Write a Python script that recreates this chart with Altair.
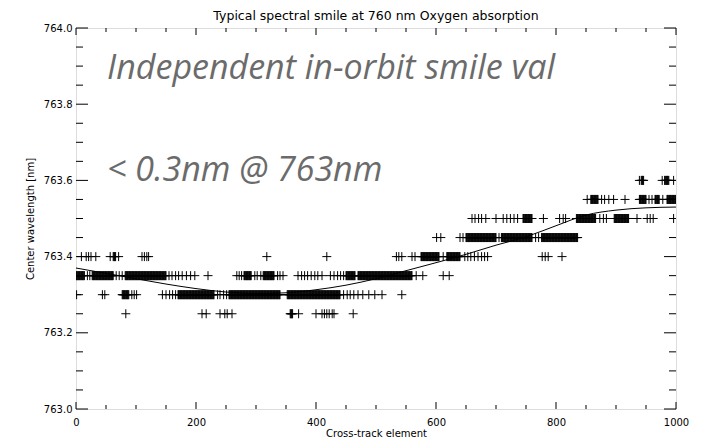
import altair as alt
import pandas as pd

# ---- data ----
# runs of cross-track elements (start, end) observed at each centre-wavelength level [nm]
lvl_763_60 = [(939, 939), (942, 946), (977, 977), (981, 988), (996, 996)]
lvl_763_55 = [(852, 852), (858, 870), (876, 876), (881, 881), (888, 888), (896, 896), (915, 915),
              (939, 950), (955, 955), (960, 960), (965, 972), (978, 978), (985, 1000)]
lvl_763_50 = [(660, 660), (665, 665), (671, 671), (676, 676), (683, 683), (700, 700), (712, 712),
              (718, 718), (724, 724), (730, 730), (736, 736), (745, 760), (779, 779), (806, 806),
              (812, 812), (816, 816), (834, 866), (873, 873), (879, 879), (884, 884), (897, 921),
              (935, 935), (952, 952), (957, 957), (962, 962), (996, 996)]
lvl_763_45 = [(601, 601), (608, 608), (640, 640), (645, 645), (650, 700), (705, 705), (709, 760),
              (766, 766), (771, 771), (776, 836)]
lvl_763_40 = [(9, 9), (17, 17), (21, 21), (25, 25), (33, 33), (57, 57), (62, 66), (71, 71),
              (110, 110), (114, 114), (118, 118), (121, 121), (318, 318), (418, 418), (534, 534),
              (538, 538), (543, 543), (560, 560), (565, 565), (575, 605), (612, 612), (618, 640),
              (648, 648), (653, 653), (658, 658), (664, 664), (670, 670), (676, 676), (681, 681),
              (686, 686), (777, 777), (782, 782), (787, 787), (810, 810)]
lvl_763_35 = [(0, 14), (19, 19), (23, 23), (27, 62), (67, 67), (72, 72), (77, 77), (82, 150),
              (155, 155), (160, 160), (166, 166), (171, 171), (177, 177), (184, 184), (191, 191),
              (198, 198), (220, 220), (268, 268), (272, 272), (276, 276), (280, 292), (298, 298),
              (302, 302), (308, 308), (312, 330), (336, 336), (340, 340), (345, 345), (370, 370),
              (376, 376), (381, 381), (386, 386), (392, 392), (398, 398), (403, 403), (410, 410),
              (424, 424), (430, 430), (436, 436), (441, 441), (446, 446), (450, 465), (470, 560),
              (567, 567), (578, 578), (612, 612), (622, 622)]
lvl_763_30 = [(1, 1), (44, 44), (48, 48), (77, 88), (93, 93), (97, 97), (101, 101), (144, 144),
              (150, 150), (156, 156), (161, 161), (166, 166), (170, 230), (236, 236), (240, 240),
              (246, 246), (251, 251), (255, 340), (352, 440), (446, 446), (452, 452), (457, 457),
              (463, 463), (470, 470), (478, 478), (488, 488), (498, 498), (510, 510), (543, 543)]
lvl_763_25 = [(83, 83), (210, 210), (217, 217), (240, 240), (248, 248), (252, 252), (260, 260),
              (357, 361), (371, 371), (400, 400), (410, 410), (414, 414), (418, 418), (422, 422),
              (427, 427), (430, 430), (462, 462)]

levels = {763.60: lvl_763_60, 763.55: lvl_763_55, 763.50: lvl_763_50, 763.45: lvl_763_45,
          763.40: lvl_763_40, 763.35: lvl_763_35, 763.30: lvl_763_30, 763.25: lvl_763_25}

# fitted smile curve
fit_x = [0, 50, 100, 150, 200, 250, 300, 350, 400, 450, 500, 550, 600, 650, 700, 750, 800, 850,
         900, 950, 1000]
fit_y = [763.370, 763.356, 763.342, 763.328, 763.316, 763.307, 763.303, 763.305, 763.313, 763.325,
         763.342, 763.363, 763.384, 763.406, 763.430, 763.452, 763.481, 763.509, 763.522, 763.528,
         763.530]

x_major = [0, 200, 400, 600, 800, 1000]
x_minor = [50, 100, 150, 250, 300, 350, 450, 500, 550, 650, 700, 750, 850, 900, 950]
y_major = [763.0, 763.2, 763.4, 763.6, 763.8, 764.0]
y_minor = [763.05, 763.1, 763.15, 763.25, 763.3, 763.35, 763.45, 763.5, 763.55, 763.65, 763.7,
           763.75, 763.85, 763.9, 763.95]

title_text = "Typical spectral smile at 760 nm Oxygen absorption"
x_title = "Cross-track element"
y_title = "Center wavelength [nm]"
notes = ["Independent in-orbit smile val", "< 0.3nm @ 763nm"]

# ---- tables ----
rows = []
for lvl, runs in levels.items():
    for a, b in runs:
        for e in range(a, b + 1):
            rows.append({"x": e, "y": lvl})
pts = pd.DataFrame(rows)
fit = pd.DataFrame({"x": fit_x, "y": fit_y})

W, H = 600, 381
FONT = "DejaVu Sans"
INK = "#000000"
xs = alt.Scale(domain=[0, 1000], nice=False, zero=False)
ys = alt.Scale(domain=[763.0, 764.0], nice=False, zero=False)
AX = alt.Axis(values=x_major, format="d", ticks=False, domain=False, grid=False, labelFont=FONT,
              labelFontSize=10, labelColor=INK, labelPadding=8, labelFlush=False, title=x_title,
              titleFont=FONT, titleFontSize=10, titleFontWeight="normal", titleColor=INK,
              titlePadding=1)
AY = alt.Axis(values=y_major, format=".1f", ticks=False, domain=False, grid=False,
              labelFont=FONT, labelFontSize=10, labelColor=INK, labelPadding=4, labelFlush=False,
              title=y_title, titleFont=FONT, titleFontSize=10, titleFontWeight="normal",
              titleColor=INK, titlePadding=8)

points = alt.Chart(pts).mark_point(
    shape="M-1,0L1,0M0,-1L0,1", filled=False, size=81, strokeWidth=1, color=INK, opacity=1,
    clip=True
).encode(
    x=alt.X("x:Q", scale=xs, axis=AX),
    y=alt.Y("y:Q", scale=ys, axis=AY),
)

curve = alt.Chart(fit).mark_line(color=INK, strokeWidth=1, interpolate="monotone").encode(
    x=alt.X("x:Q", scale=xs, axis=AX), y=alt.Y("y:Q", scale=ys, axis=AY)
)


def xticks(vals, length):
    d = pd.DataFrame({"v": vals})
    bottom = alt.Chart(d).mark_rule(color=INK, strokeWidth=1).encode(
        x=alt.X("v:Q", scale=xs, axis=AX), y=alt.value(H), y2=alt.value(H - length))
    top = alt.Chart(d).mark_rule(color=INK, strokeWidth=1).encode(
        x=alt.X("v:Q", scale=xs, axis=AX), y=alt.value(0), y2=alt.value(length))
    return [bottom, top]


def yticks(vals, length):
    d = pd.DataFrame({"v": vals})
    left = alt.Chart(d).mark_rule(color=INK, strokeWidth=1).encode(
        y=alt.Y("v:Q", scale=ys, axis=AY), x=alt.value(0), x2=alt.value(length))
    right = alt.Chart(d).mark_rule(color=INK, strokeWidth=1).encode(
        y=alt.Y("v:Q", scale=ys, axis=AY), x=alt.value(W), x2=alt.value(W - length))
    return [left, right]


tick_layers = xticks(x_major, 7) + xticks(x_minor, 4) + yticks(y_major, 12) + yticks(y_minor, 7)

note_style = dict(font="Open Sans", fontStyle="italic", fontSize=34, color="#6b6b6b",
                  align="left", baseline="alphabetic")
note1 = alt.Chart(pd.DataFrame({"t": [notes[0]]})).mark_text(**note_style).encode(
    text="t:N", x=alt.value(31), y=alt.value(51))
note2 = alt.Chart(pd.DataFrame({"t": [notes[1]]})).mark_text(**note_style).encode(
    text="t:N", x=alt.value(31), y=alt.value(153))

chart = alt.layer(points, curve, *tick_layers, note1, note2).properties(
    width=W, height=H,
    title=alt.TitleParams(title_text, font=FONT, fontSize=12.5, fontWeight="normal", color=INK,
                          anchor="middle", frame="group", offset=1),
    autosize=alt.AutoSizeParams(type="none"),
    padding={"left": 68, "top": 20, "right": 21, "bottom": 30},
).configure_view(stroke=INK, strokeWidth=1).configure(background="white")

chart.save("out.html", embed_options={"renderer": "svg", "actions": False})
